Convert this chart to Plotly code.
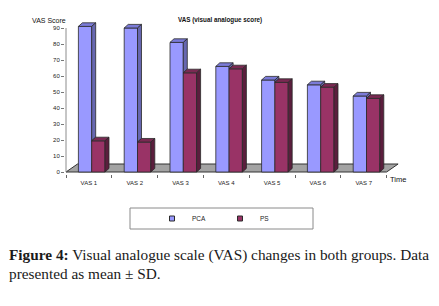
import plotly.graph_objects as go

# ---- data ----
categories = ["VAS 1", "VAS 2", "VAS 3", "VAS 4", "VAS 5", "VAS 6", "VAS 7"]
pca = [91, 90, 81, 66, 57.5, 54.5, 47.5]
ps = [19.5, 18.7, 62, 64.5, 56, 53, 46]
series_names = ["PCA", "PS"]
y_ticks = [0, 10, 20, 30, 40, 50, 60, 70, 80, 90]

# ---- styling / geometry ----
PAGE = 8                 # default body margin of the html page
W, H = 439 - PAGE, 306 - PAGE
L_REF, T_REF = 65, 20    # plot area position in reference pixels
PW, PH = 334, 154
L, T = L_REF - PAGE, T_REF - PAGE
px_per_cat = 45.8
px_per_unit = 1.6
x0 = -0.5 - 1 / px_per_cat
x_range = [x0, x0 + PW / px_per_cat]
y_range = [-(174 - 172) / px_per_unit, (172 - T_REF) / px_per_unit]

bw = 13.3 / px_per_cat          # bar width (category units)
shift = 2.8 / px_per_cat        # slight right shift of bar pair
ddx = 4.0 / px_per_cat          # depth offset x
ddy = 3.6 / px_per_unit         # depth offset y
fdx = 11.5 / px_per_cat         # floor depth x
fdy = 8.0 / px_per_unit         # floor depth y

col = {
    "PCA": dict(front="#9999FF", top="#7B7BD8", side="#6767B0"),
    "PS": dict(front="#993366", top="#7A2952", side="#5B1E3D"),
}
edge = "#2a2a2a"

xs = list(range(len(categories)))

fig = go.Figure()

# front faces (bars)
for name, vals, off in [("PCA", pca, -bw + shift), ("PS", ps, shift)]:
    fig.add_trace(go.Bar(
        x=xs, y=vals, width=bw, offset=off, name=name, showlegend=False,
        marker=dict(color=col[name]["front"], line=dict(color=edge, width=0.8)),
        hoverinfo="skip",
    ))

def poly(pts, color):
    xx = [p[0] for p in pts] + [pts[0][0]]
    yy = [p[1] for p in pts] + [pts[0][1]]
    fig.add_trace(go.Scatter(
        x=xx, y=yy, mode="lines", fill="toself", fillcolor=color,
        line=dict(color=edge, width=0.8), showlegend=False, hoverinfo="skip",
    ))

# side and top faces
for i in xs:
    v1, v2 = pca[i], ps[i]
    l1 = i - bw + shift
    r1 = i + shift
    r2 = r1 + bw
    poly([(l1, v1), (l1 + ddx, v1 + ddy), (r1 + ddx, v1 + ddy), (r1, v1)], col["PCA"]["top"])
    if v1 > v2:
        poly([(r1, v2), (r1 + ddx, v2 + ddy), (r1 + ddx, v1 + ddy), (r1, v1)], col["PCA"]["side"])
    poly([(r1, v2), (r1 + ddx, v2 + ddy), (r2 + ddx, v2 + ddy), (r2, v2)], col["PS"]["top"])
    poly([(r2, 0), (r2 + ddx, ddy), (r2 + ddx, v2 + ddy), (r2, v2)], col["PS"]["side"])

# y axis line
fig.add_trace(go.Scatter(x=[-0.5, -0.5], y=[0, y_ticks[-1]], mode="lines",
                         line=dict(color="#8c8c8c", width=1), showlegend=False, hoverinfo="skip"))

# legend entries
for name in series_names:
    fig.add_trace(go.Scatter(
        x=[None], y=[None], mode="markers", name=name,
        marker=dict(symbol="square", size=5, color=col[name]["front"],
                    line=dict(color=edge, width=1)),
    ))

n = len(categories)
floor_path = (f"M {-0.5},{0} L {n - 0.5},{0} L {n - 0.5 + fdx},{fdy} "
              f"L {-0.5 + fdx},{fdy} Z")

def px2paper_x(px):
    return (px - L_REF) / PW

def py2paper_y(py):
    return (T_REF + PH - py) / PH

shapes = [
    dict(type="path", path=floor_path, xref="x", yref="y", layer="below",
         fillcolor="#A3A3A3", line=dict(color="#333333", width=1)),
    dict(type="rect", xref="paper", yref="paper",
         x0=px2paper_x(130), x1=px2paper_x(313), y0=py2paper_y(229), y1=py2paper_y(208),
         line=dict(color="#8a8a8a", width=1), fillcolor="rgba(0,0,0,0)"),
]

sans = "Liberation Sans, Arial, sans-serif"
serif = "Liberation Serif, Times New Roman, serif"

annotations = [
    dict(text="<b>VAS (visual analogue score)</b>", xref="paper", yref="paper",
         x=px2paper_x(219.5), y=py2paper_y(20), xanchor="center", yanchor="middle",
         showarrow=False, font=dict(family=sans, size=6.3, color="#111")),
    dict(text="VAS Score", xref="paper", yref="paper", x=px2paper_x(49), y=py2paper_y(21),
         xanchor="center", yanchor="middle", showarrow=False,
         font=dict(family=sans, size=7, color="#111")),
    dict(text="Time", xref="paper", yref="paper", x=px2paper_x(388), y=py2paper_y(179),
         xanchor="left", yanchor="middle", showarrow=False,
         font=dict(family=sans, size=7.5, color="#111")),
    dict(text="<b>Figure 4:</b> Visual analogue scale (VAS) changes in both groups. Data",
         xref="paper", yref="paper", x=px2paper_x(6.5), y=py2paper_y(255),
         xanchor="left", yanchor="middle", showarrow=False,
         font=dict(family=serif, size=15.3, color="#1a1a1a")),
    dict(text="presented as mean ± SD.",
         xref="paper", yref="paper", x=px2paper_x(6.5), y=py2paper_y(273),
         xanchor="left", yanchor="middle", showarrow=False,
         font=dict(family=serif, size=15.3, color="#1a1a1a")),
]

fig.update_layout(
    width=W, height=H,
    margin=dict(l=L, r=W - L - PW, t=T, b=H - T - PH, pad=0),
    paper_bgcolor="white", plot_bgcolor="white",
    barmode="overlay",
    xaxis=dict(range=x_range, tickmode="array", tickvals=xs, ticktext=categories,
               ticks="", showgrid=False, zeroline=False, showline=False,
               ticklabelstandoff=4,
               tickfont=dict(family=sans, size=6, color="#222"),
               minor=dict(tickmode="array", tickvals=[k - 0.5 for k in range(n + 1)],
                          ticks="outside", ticklen=3, tickcolor="#666", showgrid=False)),
    yaxis=dict(range=y_range, tickmode="array", tickvals=y_ticks,
               ticks="outside", ticklen=3, tickcolor="#777", showgrid=False,
               zeroline=False, showline=False,
               tickfont=dict(family=sans, size=6, color="#222")),
    legend=dict(orientation="h", x=px2paper_x(152), y=py2paper_y(218.5),
                xanchor="left", yanchor="middle", bgcolor="rgba(0,0,0,0)",
                borderwidth=0, entrywidth=23, entrywidthmode="pixels",
                font=dict(family=sans, size=6.5, color="#222")),
    shapes=shapes,
    annotations=annotations,
    showlegend=True,
)

fig.write_html("out.html")
